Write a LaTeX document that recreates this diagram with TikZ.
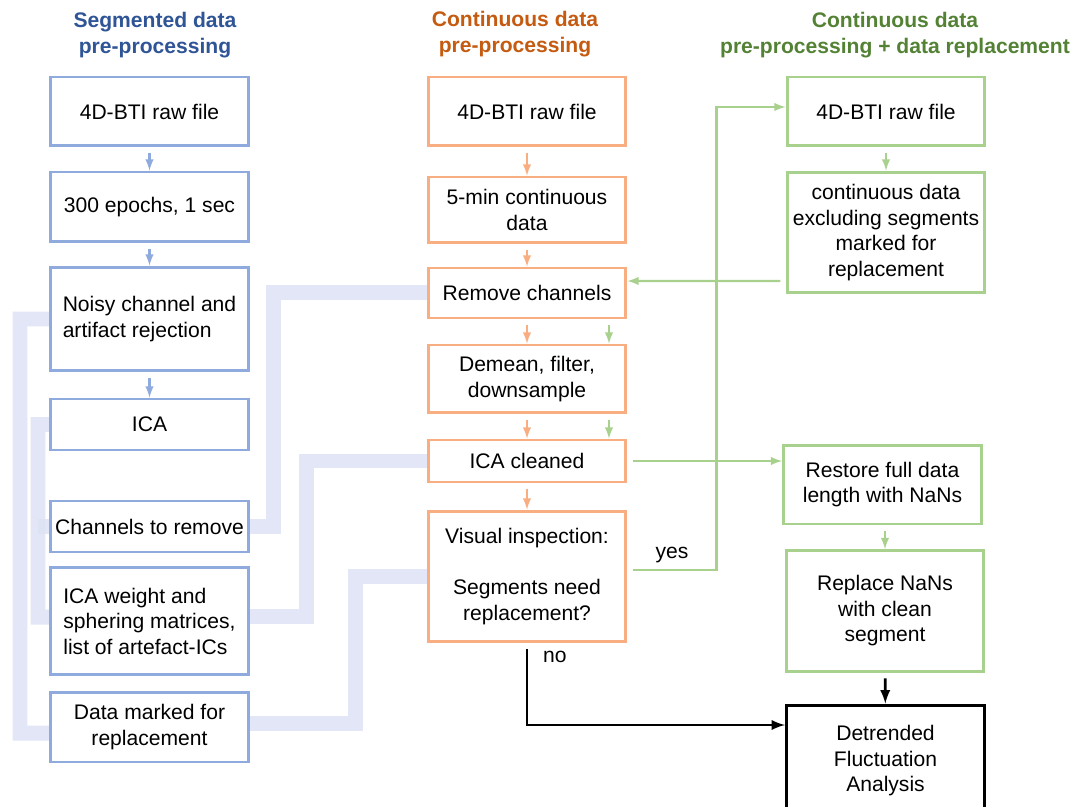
\documentclass[tikz,border=0pt]{standalone}
\usepackage{fontspec}
\setmainfont{Liberation Sans}
\usepackage{tikz}
\usetikzlibrary{positioning, backgrounds}
\definecolor{segblue}{HTML}{8FAADC}
\definecolor{contorange}{HTML}{F8AE80}
\definecolor{replgreen}{HTML}{A9D18E}
\definecolor{bandblue}{HTML}{DDE2F4}
\definecolor{segtitle}{HTML}{2F5597}
\definecolor{conttitle}{HTML}{C55A11}
\definecolor{repltitle}{HTML}{548235}

\begin{document}
\begin{tikzpicture}[x=0.02cm, y=-0.02cm,
	every node/.style={font=\fontsize{12}{14.5}\selectfont},
	flowbox/.style={draw, line width=1.7pt, fill=white, inner sep=0pt, minimum width=3.96cm, align=center},
	segbox/.style={flowbox, draw=segblue},
	contbox/.style={flowbox, draw=contorange},
	replbox/.style={flowbox, draw=replgreen},
	coltitle/.style={font=\fontsize{12}{14.5}\selectfont\bfseries, align=center},
	band/.style={line width=0.3cm, draw=bandblue, opacity=0.85},
	link/.style={-latex, line width=1.2pt, shorten <=3pt},
	barrow/.style={link, segblue},
	oarrow/.style={link, contorange},
	garrow/.style={link, replgreen},
	karrow/.style={-latex, line width=1.6pt, black, shorten <=3pt}]
			\useasboundingbox (0,0) rectangle (1075,807);
			
			%% titulos
			\node[coltitle, text=segtitle] (tseg) at (155,35) {Segmented data\\pre-processing};
			\node[coltitle, text=conttitle] (tcont) at (515,34) {Continuous data\\pre-processing};
			\node[coltitle, text=repltitle] (trepl) at (895,35) {Continuous data\\pre-processing + data replacement};
			
			%% segmented
			\node[segbox, minimum height=1.38cm] (raw1) at (149.5,111.5) {4D-BTI raw file};
			\node[segbox, minimum height=1.4cm] (epochs) at (149.5,207) {300 epochs, 1 sec};
			\node[segbox, minimum height=2.08cm, align=left] (noisy) at (149.5,319) {Noisy channel and\\artifact rejection};
			\node[segbox, minimum height=1.02cm] (ica) at (149.5,424.5) {ICA};
			\node[segbox, minimum height=1.02cm] (chans) at (149.5,526.5) {Channels to remove};
			\node[segbox, minimum height=2.16cm, align=left] (weights) at (149.5,621) {ICA weight and\\sphering matrices,\\list of artefact-ICs};
			\node[segbox, minimum height=1.4cm] (marked) at (149.5,727) {Data marked for\\replacement};
			
			\draw[barrow] (raw1) -- (epochs);
			\draw[barrow] (epochs) -- (noisy);
			\draw[barrow] (noisy) -- (ica);
			
			%% continuous
			\node[contbox, minimum height=1.38cm] (raw2) at (527,111.5) {4D-BTI raw file};
			\node[contbox, minimum height=1.32cm] (fivemin) at (527,210) {5-min continuous\\data};
			\node[contbox, minimum height=1.0cm] (remove) at (527,293) {Remove channels};
			\node[contbox, minimum height=1.36cm] (demean) at (527,379) {Demean, filter,\\downsample};
			\node[contbox, minimum height=0.84cm] (cleaned) at (527,461) {ICA cleaned};
			\node[contbox, minimum height=2.62cm] (inspect) at (527,576.5) {Visual inspection:\\[14.5pt]Segments need\\replacement?};
			
			\draw[oarrow] (raw2) -- (fivemin);
			\draw[oarrow] (fivemin) -- (remove);
			\draw[oarrow] (remove) -- (demean);
			\draw[oarrow] (demean) -- (cleaned);
			\draw[oarrow] (cleaned) -- (inspect);
			
			%% replacement
			\node[replbox, minimum height=1.38cm] (raw3) at (886,111.5) {4D-BTI raw file};
			\node[replbox, minimum height=2.42cm] (excl) at (886,232.5) {continuous data\\excluding segments\\marked for\\replacement};
			\node[replbox, minimum height=1.58cm] (restore) at (882.5,484.5) {Restore full data\\length with NaNs};
			\node[replbox, minimum height=2.42cm] (nans) at (885,611) {Replace NaNs\\with clean\\segment};
			\node[flowbox, draw=black, minimum height=2.24cm] (dfa) at (885.5,761) {Detrended\\Fluctuation\\Analysis};
			
			\draw[garrow] (raw3) -- (excl);
			\draw[garrow] ([yshift=-0.97cm]excl.west) -- ([yshift=0.24cm]remove.east);
			\draw[garrow] ([xshift=1.64cm]remove.south) -- ([xshift=1.64cm]demean.north);
			\draw[garrow] ([xshift=1.64cm]demean.south) -- ([xshift=1.64cm]cleaned.north);
			\draw[garrow] (cleaned) -- (cleaned -| restore.west);
			\draw[garrow] ([yshift=0.13cm]inspect.east) -- ++(89,0)
			node [midway, above, text=black] {yes} |- ([yshift=0.09cm]raw3.west);
			\draw[garrow] (restore.south -| nans.north) -- (nans.north);
			
			%% DFA
			\draw[karrow] (nans) -- (dfa);
			\draw[karrow] (inspect.south) |- node [pos=0.08, right=5pt] {no} ([yshift=0.72cm]dfa.west);
			
			%% faixas
			\begin{scope}[on background layer]
			\draw[band] (noisy.west) -| (20,733) -- ([yshift=-0.12cm]marked.west);
			\draw[band] (ica.west) -| (38,617) -- ([yshift=0.08cm]weights.west);
			\draw[band] (38,526.5) -- (chans.west);
			\draw[band] (chans.east) -- ++(24,0) |- (remove.west);
			\draw[band] ([yshift=0.1cm]weights.east) -- ++(57,0) |- (cleaned.west);
			\draw[band] ([yshift=0.08cm]marked.east) -- ++(106,0) |- (inspect.west);
			\end{scope}
		\end{tikzpicture}
\end{document}
